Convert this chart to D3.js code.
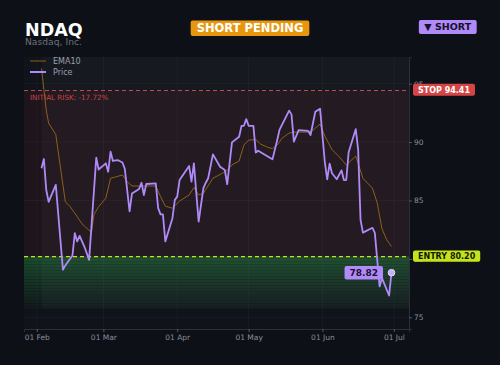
<!DOCTYPE html>
<html>
<head>
<meta charset="utf-8">
<script src="https://cdn.jsdelivr.net/npm/d3@7"></script>
<style>
  body { margin: 0; background: #0d1017; }
  svg text { font-family: "DejaVu Sans", sans-serif; }
</style>
</head>
<body>
<script>
var svgWidth = 500;
var svgHeight = 365;

var margin = { top: 57, right: 91, bottom: 36, left: 24 };
var width = svgWidth - margin.left - margin.right;
var height = svgHeight - margin.top - margin.bottom;

// chart data
var ticker = "NDAQ";
var company = "Nasdaq, Inc.";
var status = "SHORT PENDING";
var side = "\u25BC SHORT";
var entry = 80.20;
var stop = 94.41;
var zoneFloor = 75.75;
var yDomain = [74.0, 97.28];
var yTicks = [75, 80, 85, 90, 95];

var dates = ["2025-02-03","2025-02-04","2025-02-05","2025-02-06","2025-02-09","2025-02-12","2025-02-13","2025-02-16","2025-02-17","2025-02-18",
  "2025-02-19","2025-02-21","2025-02-23","2025-02-26","2025-02-27","2025-03-02","2025-03-03","2025-03-04","2025-03-05","2025-03-07",
  "2025-03-09","2025-03-10","2025-03-12","2025-03-13","2025-03-16","2025-03-17","2025-03-18","2025-03-19","2025-03-23","2025-03-24",
  "2025-03-25","2025-03-26","2025-03-27","2025-03-30","2025-03-31","2025-04-01","2025-04-02","2025-04-06","2025-04-07","2025-04-08",
  "2025-04-10","2025-04-12","2025-04-13","2025-04-14","2025-04-16","2025-04-19","2025-04-21","2025-04-22","2025-04-24","2025-04-27",
  "2025-04-28","2025-04-29","2025-04-30","2025-05-01","2025-05-03","2025-05-04","2025-05-05","2025-05-11","2025-05-13","2025-05-14",
  "2025-05-18","2025-05-19","2025-05-20","2025-05-22","2025-05-26","2025-05-27","2025-05-29","2025-05-31","2025-06-02","2025-06-03",
  "2025-06-04","2025-06-05","2025-06-07","2025-06-09","2025-06-10","2025-06-11","2025-06-12","2025-06-15","2025-06-16","2025-06-17",
  "2025-06-18","2025-06-22","2025-06-23","2025-06-25","2025-06-26","2025-06-29","2025-06-30"];

var price = [87.75, 88.55, 85.9, 84.88, 86.33, 79.07, 79.44, 80.29, 82.2, 81.49,
  81.97, 81.06, 79.92, 88.66, 87.65, 88.18, 87.46, 89.17, 88.38, 88.46,
  88.25, 87.69, 84.06, 85.6, 85.99, 86.52, 85.47, 86.41, 86.47, 84.34,
  83.81, 83.81, 81.5, 83.48, 85.05, 85.33, 86.75, 87.95, 86.61, 88.18,
  83.19, 86.05, 86.52, 86.9, 88.95, 87.89, 87.61, 86.39, 89.97, 90.45,
  91.39, 91.39, 91.96, 91.39, 91.39, 89.1, 89.26, 88.52, 90.17, 91.07,
  92.69, 92.37, 90.04, 91.02, 90.96, 90.6, 92.59, 92.86, 88.29, 86.81,
  88.16, 87.33, 86.82, 87.58, 86.75, 86.75, 89.13, 91.11, 89.32, 83.34,
  82.25, 82.66, 82.23, 77.64, 78.36, 76.87, 78.82];

var emaDates = ["2025-02-03","2025-02-04","2025-02-05","2025-02-06","2025-02-09","2025-02-13","2025-02-15","2025-02-17","2025-02-20","2025-02-24",
  "2025-02-25","2025-02-27","2025-03-02","2025-03-04","2025-03-06","2025-03-09","2025-03-11","2025-03-13","2025-03-23","2025-03-25",
  "2025-03-27","2025-03-30","2025-04-02","2025-04-06","2025-04-08","2025-04-10","2025-04-12","2025-04-16","2025-04-20","2025-04-22",
  "2025-04-24","2025-04-27","2025-04-29","2025-05-01","2025-05-04","2025-05-06","2025-05-09","2025-05-11","2025-05-13","2025-05-15",
  "2025-05-18","2025-05-20","2025-05-26","2025-05-28","2025-05-31","2025-06-02","2025-06-05","2025-06-08","2025-06-11","2025-06-15",
  "2025-06-18","2025-06-22","2025-06-24","2025-06-26","2025-06-28","2025-06-30"];

var ema = [96.3, 94.5, 92.73, 91.62, 90.64, 84.9, 84.47, 83.91, 83.0, 82.25,
  83.77, 84.47, 85.19, 86.9, 87.01, 87.18, 86.61, 86.24, 86.24, 85.33,
  84.51, 84.34, 84.96, 85.47, 86.11, 85.47, 85.62, 86.9, 87.33, 87.57,
  88.04, 88.38, 89.74, 90.17, 90.21, 89.83, 89.55, 89.44, 89.74, 90.32,
  90.77, 90.85, 90.85, 91.02, 91.54, 90.51, 89.36, 88.74, 88.04, 88.8,
  86.9, 86.05, 84.79, 82.57, 81.63, 81.06];

var parseDate = d3.timeParse("%Y-%m-%d");
var priceData = dates.map(function(d, i) { return { date: parseDate(d), value: price[i] }; });
var emaData = emaDates.map(function(d, i) { return { date: parseDate(d), value: ema[i] }; });

var purple = "#b08af9";
var emaColor = "#8e5f18";
var red = "#d64545";
var lime = "#c4e31b";
var grey = "#8a8f99";

var svg = d3.select("body")
  .append("svg")
  .attr("width", svgWidth)
  .attr("height", svgHeight);

svg.append("rect")
  .attr("width", svgWidth)
  .attr("height", svgHeight)
  .attr("fill", "#0d1017");

var defs = svg.append("defs");
var grad = defs.append("linearGradient")
  .attr("id", "profit")
  .attr("x1", 0).attr("y1", 0).attr("x2", 0).attr("y2", 1);
grad.append("stop").attr("offset", "0%").attr("stop-color", "#2fc456").attr("stop-opacity", 0.32);
grad.append("stop").attr("offset", "100%").attr("stop-color", "#2fc456").attr("stop-opacity", 0.03);

var stripes = defs.append("pattern")
  .attr("id", "stripes")
  .attr("patternUnits", "userSpaceOnUse")
  .attr("width", 6).attr("height", 3);
stripes.append("rect")
  .attr("width", 6).attr("height", 1)
  .attr("fill", "#000").attr("opacity", 0.16);

var plot = svg.append("g")
  .attr("transform", `translate(${margin.left}, ${margin.top})`);

var xStart = priceData[0].date, xEnd = priceData[priceData.length - 1].date;
var pad = (xEnd - xStart) * 0.05;
var x = d3.scaleTime()
  .domain([new Date(+xStart - pad), new Date(+xEnd + pad)])
  .range([0, width]);

var y = d3.scaleLinear()
  .domain(yDomain)
  .range([height, 0]);

plot.append("rect")
  .attr("width", width)
  .attr("height", height)
  .attr("fill", "#10131a");

// grid
var monthTicks = x.ticks(d3.timeMonth.every(1));
plot.append("g").selectAll("line")
  .data(monthTicks)
  .enter()
  .append("line")
  .attr("x1", d => x(d)).attr("x2", d => x(d))
  .attr("y1", 0).attr("y2", height)
  .attr("stroke", "#fff").attr("stroke-opacity", 0.035);

plot.append("g").selectAll("line")
  .data(yTicks)
  .enter()
  .append("line")
  .attr("x1", 0).attr("x2", width)
  .attr("y1", d => y(d)).attr("y2", d => y(d))
  .attr("stroke", "#fff").attr("stroke-opacity", 0.035);

// risk zone and profit zone
plot.append("rect")
  .attr("x", 0).attr("width", width)
  .attr("y", y(stop)).attr("height", y(entry) - y(stop))
  .attr("fill", "#d03040").attr("opacity", 0.08);

plot.append("rect")
  .attr("x", 0).attr("width", width)
  .attr("y", y(entry)).attr("height", y(zoneFloor) - y(entry))
  .attr("fill", "url(#profit)");

plot.append("rect")
  .attr("x", 0).attr("width", width)
  .attr("y", y(entry)).attr("height", y(zoneFloor) - y(entry))
  .attr("fill", "url(#stripes)");

// trade window highlight
plot.append("rect")
  .attr("x", x(xStart)).attr("width", width - x(xStart))
  .attr("y", 0).attr("height", y(zoneFloor))
  .attr("fill", "#fff").attr("opacity", 0.028);

// axes
var xAxis = d3.axisBottom(x)
  .ticks(d3.timeMonth.every(1))
  .tickFormat(d3.timeFormat("%d %b"))
  .tickSize(3)
  .tickPadding(3);

var yAxis = d3.axisRight(y)
  .tickValues(yTicks)
  .tickSize(3)
  .tickPadding(2);

var gx = plot.append("g")
  .attr("transform", `translate(0, ${height})`)
  .call(xAxis);
var gy = plot.append("g")
  .attr("transform", `translate(${width}, 0)`)
  .call(yAxis);

[gx, gy].forEach(function(g) {
  g.select(".domain").attr("stroke", "#2a2f38");
  g.selectAll(".tick line").attr("stroke", "#555b66");
  g.selectAll(".tick text")
    .attr("fill", grey)
    .style("font-size", "7.5px");
});

// stop / entry levels
plot.append("line")
  .attr("x1", 0).attr("x2", width)
  .attr("y1", y(stop)).attr("y2", y(stop))
  .attr("stroke", "#e05555").attr("stroke-opacity", 0.85)
  .attr("stroke-dasharray", "4,3");

plot.append("line")
  .attr("x1", 0).attr("x2", width)
  .attr("y1", y(entry)).attr("y2", y(entry))
  .attr("stroke", lime)
  .attr("stroke-width", 1.2)
  .attr("stroke-dasharray", "4,3");

var riskPct = (entry - stop) / entry * 100;
plot.append("text")
  .attr("x", 6)
  .attr("y", y(stop) + 9)
  .attr("fill", "#c94444")
  .style("font-size", "7.2px")
  .text("INITIAL RISK: " + riskPct.toFixed(2) + "%");

// lines
var line = d3.line()
  .x(d => x(d.date))
  .y(d => y(d.value));

plot.append("path")
  .datum(emaData)
  .attr("d", line)
  .attr("fill", "none")
  .attr("stroke", emaColor)
  .attr("stroke-width", 1);

plot.append("path")
  .datum(priceData)
  .attr("d", line)
  .attr("fill", "none")
  .attr("stroke", purple)
  .attr("stroke-width", 1.8)
  .attr("stroke-linejoin", "round");

var last = priceData[priceData.length - 1];
plot.append("circle")
  .attr("cx", x(last.date))
  .attr("cy", y(last.value))
  .attr("r", 3.3)
  .attr("fill", "#c9aefc")
  .attr("stroke", "#e4d8ff")
  .attr("stroke-width", 1);

// tag helper: box sized to its text
function tag(parent, cx, cy, txt, fill, color, size, anchor, padX, padY) {
  var g = parent.append("g");
  var r = g.append("rect").attr("rx", 2).attr("fill", fill);
  var t = g.append("text")
    .attr("fill", color)
    .attr("font-weight", "bold")
    .style("font-size", size + "px")
    .attr("dy", "0.36em")
    .text(txt);
  var w = t.node().getComputedTextLength();
  var left = anchor === "end" ? cx - w - 2 * padX : anchor === "middle" ? cx - w / 2 - padX : cx;
  t.attr("x", left + padX).attr("y", cy);
  r.attr("x", left).attr("y", cy - size / 2 - padY)
    .attr("width", w + 2 * padX).attr("height", size + 2 * padY);
  return g;
}

tag(plot, width + 4, y(stop) - 0.8, "STOP " + stop.toFixed(2), red, "#fff", 8, "start", 5, 2);
tag(plot, width + 4, y(entry) - 0.4, "ENTRY " + entry.toFixed(2), lime, "#141a05", 8, "start", 5, 1.6);
tag(plot, x(last.date) - 8.5, y(last.value), last.value.toFixed(2), purple, "#1a1230", 9, "end", 5, 2.2);

// legend
var legend = plot.append("g").attr("transform", "translate(6, 4)");
legend.append("line")
  .attr("x1", 0).attr("x2", 16).attr("y1", 0).attr("y2", 0)
  .attr("stroke", emaColor).attr("stroke-width", 1);
legend.append("text")
  .attr("x", 23).attr("y", 0).attr("dy", "0.35em")
  .attr("fill", "#9aa0aa")
  .style("font-size", "8px")
  .text("EMA10");
legend.append("line")
  .attr("x1", 0).attr("x2", 16).attr("y1", 11).attr("y2", 11)
  .attr("stroke", purple).attr("stroke-width", 2);
legend.append("text")
  .attr("x", 23).attr("y", 11).attr("dy", "0.35em")
  .attr("fill", "#9aa0aa")
  .style("font-size", "8px")
  .text("Price");

// header
svg.append("text")
  .attr("x", 25).attr("y", 36)
  .attr("fill", "#fff")
  .attr("font-weight", "bold")
  .style("font-size", "17.5px")
  .text(ticker);

svg.append("text")
  .attr("x", 25).attr("y", 45)
  .attr("fill", "#6b7079")
  .style("font-size", "9.2px")
  .text(company);

tag(svg, 250, 28.3, status, "#e8960e", "#fff", 11.5, "middle", 6, 2);
tag(svg, 476.7, 27, side, purple, "#16102a", 9.5, "end", 5.5, 2.3);
</script>
</body>
</html>
